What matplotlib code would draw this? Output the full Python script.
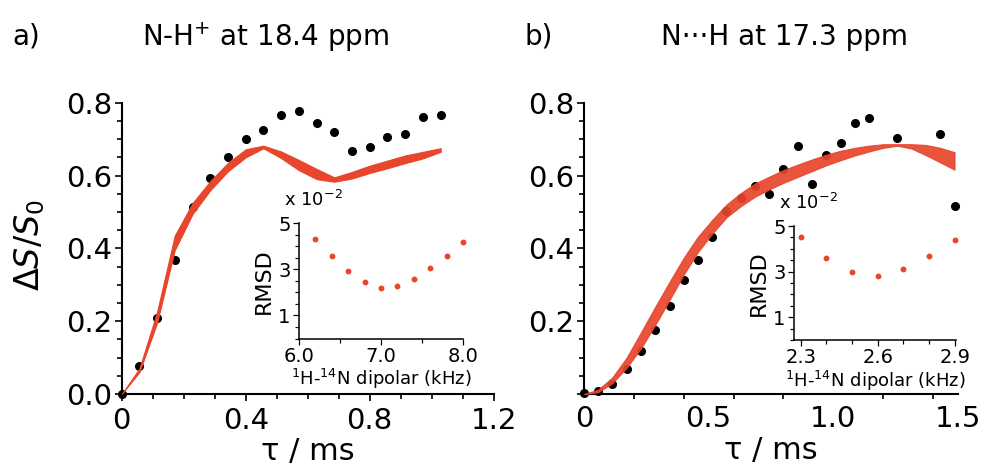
import numpy as np
import matplotlib.pyplot as plt
from matplotlib.ticker import MultipleLocator, FixedLocator

plt.rcParams['font.family'] = 'DejaVu Sans'
plt.rcParams['mathtext.fontset'] = 'dejavusans'

RED = '#e8452c'

# panel a: N-H+ at 18.4 ppm
tau_a = [0.000, 0.057, 0.114, 0.171, 0.229, 0.286, 0.343, 0.400, 0.457, 0.514,
         0.571, 0.629, 0.686, 0.743, 0.800, 0.857, 0.914, 0.971, 1.029]
exp_a = [0.000, 0.077, 0.209, 0.367, 0.514, 0.592, 0.650, 0.701, 0.726, 0.765,
         0.777, 0.743, 0.719, 0.668, 0.679, 0.707, 0.715, 0.760, 0.765]
sim_a_low = [0.000, 0.060, 0.195, 0.395, 0.495, 0.560, 0.612, 0.650, 0.675, 0.648,
             0.615, 0.590, 0.583, 0.592, 0.607, 0.620, 0.634, 0.647, 0.665]
sim_a_high = [0.000, 0.070, 0.225, 0.435, 0.525, 0.585, 0.635, 0.672, 0.682, 0.666,
              0.643, 0.618, 0.595, 0.610, 0.627, 0.641, 0.655, 0.665, 0.675]
dip_a = [6.2, 6.4, 6.6, 6.8, 7.0, 7.2, 7.4, 7.6, 7.8, 8.0]
rmsd_a = [4.31, 3.56, 2.91, 2.43, 2.20, 2.27, 2.57, 3.04, 3.58, 4.16]

# panel b: N...H at 17.3 ppm
tau_b = [0.000, 0.057, 0.114, 0.171, 0.229, 0.286, 0.343, 0.400, 0.457, 0.514,
         0.571, 0.629, 0.686, 0.743, 0.800, 0.857, 0.914, 0.971, 1.029, 1.086,
         1.143, 1.200, 1.257, 1.314, 1.371, 1.429, 1.486]
tau_b_exp = [0.000, 0.057, 0.114, 0.171, 0.229, 0.286, 0.343, 0.400, 0.457, 0.514,
             0.571, 0.629, 0.686, 0.743, 0.800, 0.857, 0.914, 0.971, 1.029, 1.086,
             1.143, 1.257, 1.429, 1.486]
exp_b = [0.002, 0.008, 0.027, 0.068, 0.117, 0.176, 0.243, 0.312, 0.367, 0.431,
         0.502, 0.539, 0.572, 0.549, 0.617, 0.682, 0.577, 0.655, 0.689, 0.743,
         0.759, 0.703, 0.714, 0.516]
sim_b_low = [0.000, 0.005, 0.030, 0.072, 0.126, 0.190, 0.258, 0.328, 0.390, 0.440,
             0.485, 0.516, 0.542, 0.562, 0.580, 0.596, 0.612, 0.628, 0.642, 0.655,
             0.666, 0.676, 0.682, 0.674, 0.656, 0.636, 0.616]
sim_b_high = [0.000, 0.012, 0.046, 0.100, 0.170, 0.240, 0.308, 0.374, 0.432, 0.478,
              0.520, 0.552, 0.578, 0.597, 0.615, 0.630, 0.644, 0.657, 0.668, 0.676,
              0.682, 0.686, 0.686, 0.686, 0.684, 0.676, 0.664]
dip_b = [2.3, 2.4, 2.5, 2.6, 2.7, 2.8, 2.9]
rmsd_b = [4.52, 3.61, 3.00, 2.81, 3.10, 3.67, 4.40]

W, H = 987, 473
fig = plt.figure(figsize=(W / 100, H / 100), dpi=100)


def px_rect(x0, y0, x1, y1):
    return [x0 / W, 1 - y1 / H, (x1 - x0) / W, (y1 - y0) / H]


def style_axes(ax, lw, size, length):
    for s in ['top', 'right']:
        ax.spines[s].set_visible(False)
    for s in ['left', 'bottom']:
        ax.spines[s].set_linewidth(lw)
    ax.tick_params(which='both', direction='out', width=lw * 0.8, labelsize=size, pad=2)
    ax.tick_params(which='major', length=length)
    ax.tick_params(which='minor', length=length * 0.75)


ax_a = fig.add_axes(px_rect(121.7, 102.7, 493.7, 394))
ax_b = fig.add_axes(px_rect(584, 102.7, 958, 394))

for ax, tau, tex, ex, lo, hi in [(ax_a, tau_a, tau_a, exp_a, sim_a_low, sim_a_high),
                                 (ax_b, tau_b, tau_b_exp, exp_b, sim_b_low, sim_b_high)]:
    ax.plot(tex, ex, 'o', color='black', ms=5.5, clip_on=False, zorder=2)
    ax.fill_between(tau, lo, hi, color=RED, lw=0.8, edgecolor=RED, zorder=3,
                    alpha=1.0 if ax is ax_a else 0.92)
    ax.set_ylim(0, 0.8)
    style_axes(ax, 1.5, 21, 5)
    ax.yaxis.set_minor_locator(MultipleLocator(0.05))
    ax.set_xlabel('τ / ms', fontsize=22, labelpad=2)

ax_a.set_xlim(0, 1.2)
ax_a.set_xticks([0, 0.4, 0.8, 1.2])
ax_a.set_xticklabels(['0', '0.4', '0.8', '1.2'])
ax_a.xaxis.set_minor_locator(MultipleLocator(0.1))
ax_a.set_yticks([0, 0.2, 0.4, 0.6, 0.8])
ax_a.set_yticklabels(['0.0', '0.2', '0.4', '0.6', '0.8'])
ax_a.tick_params(axis='x', which='major', pad=4)

ax_b.set_xlim(0, 1.5)
ax_b.set_xticks([0, 0.5, 1.0, 1.5])
ax_b.set_xticklabels(['0', '0.5', '1.0', '1.5'])
ax_b.tick_params(axis='x', which='major', length=0, pad=8)
ax_b.xaxis.set_minor_locator(FixedLocator([0, 0.2, 0.4, 0.6, 0.8, 1.0, 1.2, 1.4]))
ax_b.set_yticks([0, 0.2, 0.4, 0.6, 0.8])
ax_b.set_yticklabels(['', '0.2', '0.4', '0.6', '0.8'])

# insets
ins_a = fig.add_axes(px_rect(299, 223, 463, 338.5))
ins_b = fig.add_axes(px_rect(794, 226, 956, 340))
for ins, dip, rm, xt, xl in [(ins_a, dip_a, rmsd_a, [6.0, 7.0, 8.0], (6.0, 8.0)),
                             (ins_b, dip_b, rmsd_b, [2.3, 2.6, 2.9], (2.274, 2.905))]:
    ins.plot(dip, rm, 'o', color=RED, ms=3.2, clip_on=False)
    ins.set_xlim(*xl)
    ins.set_ylim(0, 5)
    style_axes(ins, 1.1, 14, 4)
    ins.set_xticks(xt)
    ins.set_xticklabels([f'{v:.1f}' for v in xt])
    ins.set_yticks([1, 3, 5])
    ins.yaxis.set_minor_locator(MultipleLocator(0.5))
    ins.set_xlabel(r'$^{1}$H-$^{14}$N dipolar (kHz)', fontsize=13, labelpad=1)
    ins.set_ylabel('RMSD', fontsize=16, labelpad=3)
    ins.patch.set_alpha(0)
    ins.text(-0.09, 1.2, r'x 10$^{-2}$', transform=ins.transAxes, fontsize=13,
             ha='left', va='center')
ins_a.xaxis.set_minor_locator(MultipleLocator(0.5))
ins_b.xaxis.set_minor_locator(MultipleLocator(0.1))

# titles and panel letters
fig.text(12 / W, 1 - 37 / H, 'a)', fontsize=20, ha='left', va='center')
fig.text(266 / W, 1 - 37 / H, r'N-H$^{+}$ at 18.4 ppm', fontsize=20, ha='center', va='center')
fig.text(525 / W, 1 - 37 / H, 'b)', fontsize=20, ha='left', va='center')
fig.text(785 / W, 1 - 37 / H, 'N\u00b7\u00b7\u00b7H at 17.3 ppm', fontsize=20, ha='center', va='center')
fig.text(30 / W, 1 - 245 / H, r'$\mathit{\Delta S/S_0}$', fontsize=24, rotation=90,
         ha='center', va='center')

fig.savefig('out.png', dpi=100)
